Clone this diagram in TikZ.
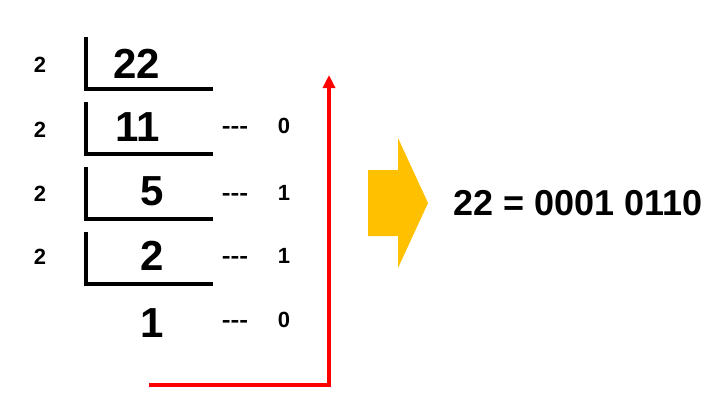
\documentclass[tikz,border=0pt]{standalone}
\usepackage{fontspec}
\setmainfont{Liberation Sans}
\usetikzlibrary{arrows.meta}
\definecolor{arrowyellow}{HTML}{FFC000}
\tikzset{
  divisor/.style={font=\fontsize{22}{22}\selectfont\bfseries, inner sep=0pt, anchor=base},
  quot/.style={font=\fontsize{42}{42}\selectfont\bfseries, inner sep=0pt, anchor=base},
  remd/.style={font=\fontsize{22}{22}\selectfont\bfseries, inner sep=0pt, anchor=base},
  dashes/.style={font=\fontsize{22}{22}\selectfont\bfseries, inner sep=0pt, anchor=base, xscale=1.2, transform shape},
  bracket/.style={line width=4pt, black},
  redline/.style={line width=3.5pt, red, -{Triangle[length=13pt,width=12pt]}},
  result/.style={font=\fontsize{36}{36}\selectfont\bfseries, inner sep=0pt, anchor=base}
}
\begin{document}
\begin{tikzpicture}[x=1pt,y=-1pt]
\useasboundingbox (0,0) rectangle (721,416);
% divisors
\node[divisor] (d1) at (40,72.5) {2};
\node[divisor] (d2) at (40,137) {2};
\node[divisor] (d3) at (40,201) {2};
\node[divisor] (d4) at (40,264) {2};
% quotients
\node[quot] (q1) at (137,78) {22};
\node[quot] (q2) at (138,141) {11};
\node[quot] (q3) at (152,205) {5};
\node[quot] (q4) at (152,270) {2};
\node[quot] (q5) at (152,337) {1};
% brackets
\draw[bracket] (86,37) -- (86,89) -- (213,89);
\draw[bracket] (86,102) -- (86,154) -- (213,154);
\draw[bracket] (86,167) -- (86,219) -- (213,219);
\draw[bracket] (86,232) -- (86,284) -- (213,284);
% remainders
\node[dashes] (r1) at (235,133) {-{}-{}-};
\node[dashes] (r2) at (235,200) {-{}-{}-};
\node[dashes] (r3) at (235,263) {-{}-{}-};
\node[dashes] (r4) at (235,327) {-{}-{}-};
\node[remd] (v1) at (284,133) {0};
\node[remd] (v2) at (284,200) {1};
\node[remd] (v3) at (284,263) {1};
\node[remd] (v4) at (284,327) {0};
% red arrow
\coordinate (rs) at (149,385);
\coordinate (rc) at (329,385);
\coordinate (re) at (329,75);
\draw[redline] (rs) -- (rc) -- (re);
% yellow arrow
\fill[arrowyellow] (368,170) -- (398,170) -- (398,138) -- (428,203) -- (398,268) -- (398,236) -- (368,236) -- cycle;
% result
\node[result] (res) at (578,215) {22 = 0001 0110};
\end{tikzpicture}
\end{document}
